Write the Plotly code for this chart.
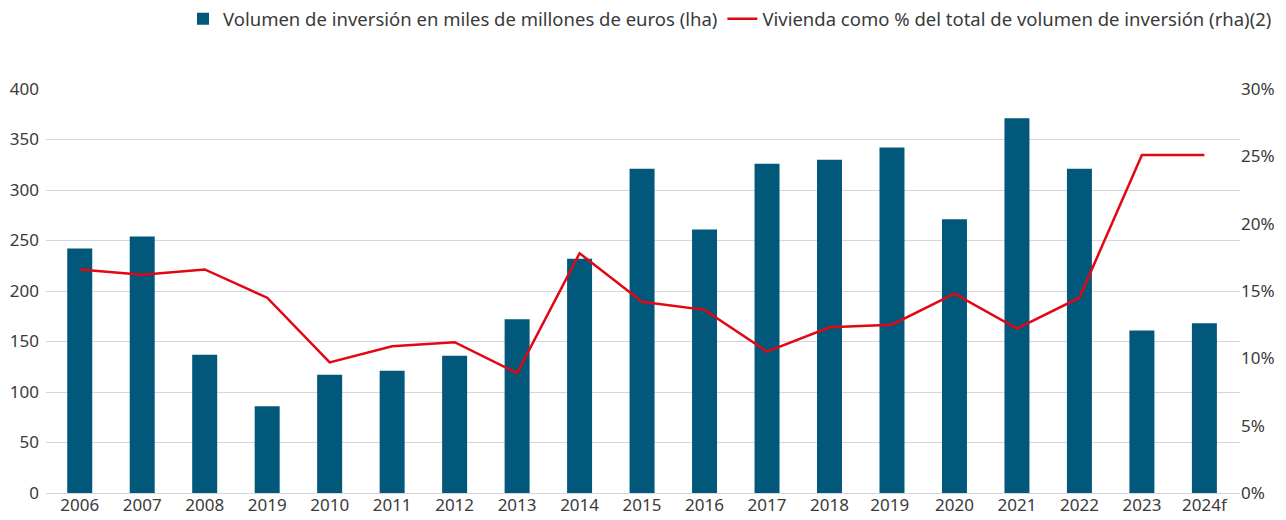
import plotly.graph_objects as go

years = ["2006", "2007", "2008", "2019", "2010", "2011", "2012", "2013", "2014",
         "2015", "2016", "2017", "2018", "2019 ", "2020", "2021", "2022", "2023", "2024f"]
volumen = [242, 254, 137, 86, 117, 121, 136, 172, 232,
           321, 261, 326, 330, 342, 271, 371, 321, 161, 168]
vivienda_pct = [16.6, 16.2, 16.6, 14.5, 9.7, 10.9, 11.2, 8.9, 17.8,
                14.2, 13.6, 10.5, 12.3, 12.5, 14.8, 12.2, 14.5, 25.1, 25.1]

FONT = "Noto Sans"
TEXT = "#3a3a3a"
GRID = "#d5d5de"
BAR = "#01587a"
RED = "#e30613"

fig = go.Figure()
fig.add_trace(go.Bar(
    x=years, y=volumen, name="Volumen de inversión en miles de millones de euros (lha)",
    marker=dict(color=BAR, line=dict(width=0)), width=0.4, yaxis="y",
))
fig.add_trace(go.Scatter(
    x=years, y=[v / 100 for v in vivienda_pct], mode="lines",
    name="Vivienda como % del total de volumen de inversión (rha)(2)",
    line=dict(color=RED, width=2.5), yaxis="y2",
))

fig.update_layout(
    width=1286, height=520,
    margin=dict(l=46, r=46, t=89, b=27, autoexpand=False),
    paper_bgcolor="white", plot_bgcolor="white",
    font=dict(family=FONT, size=17, color=TEXT),
    bargap=0.6,
    showlegend=True,
    legend=dict(
        orientation="h", xref="container", yref="container",
        x=0.993, xanchor="right", y=0.963, yanchor="middle",
        font=dict(family=FONT, size=18.5, color=TEXT),
        itemwidth=30, tracegroupgap=0, traceorder="normal",
        bgcolor="rgba(0,0,0,0)",
    ),
    xaxis=dict(
        type="category", range=[-0.54, 18.57], automargin=False,
        showgrid=False, showline=False, ticks="",
        tickfont=dict(family=FONT, size=17, color=TEXT),
    ),
    yaxis=dict(
        range=[0, 400], dtick=50, showgrid=True, gridcolor=GRID, gridwidth=1,
        zeroline=True, zerolinecolor=GRID, zerolinewidth=1, automargin=False,
        showline=False, ticks="", ticklabelstandoff=6,
        tickfont=dict(family=FONT, size=17, color=TEXT),
    ),
    yaxis2=dict(
        overlaying="y", side="right", range=[0, 0.30], dtick=0.05,
        tickformat=".0%", showgrid=False, zeroline=False, showline=False,
        automargin=False, ticks="", tickfont=dict(family=FONT, size=17, color=TEXT),
    ),
)

fig.write_html("out.html")
